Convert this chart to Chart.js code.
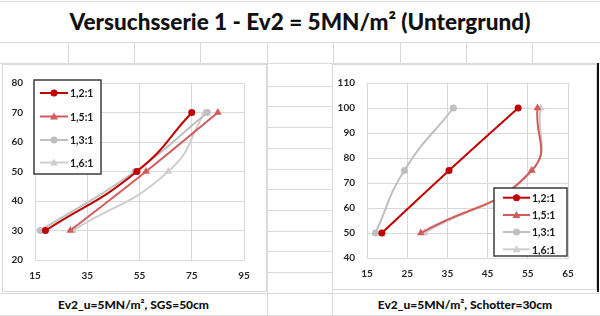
<!DOCTYPE html>
<html>
<head>
<meta charset="utf-8">
<script src="https://cdn.jsdelivr.net/npm/chart.js@4.4.1/dist/chart.umd.min.js"></script>
<style>
  body { margin: 0; width: 600px; height: 316px; position: relative; overflow: hidden; background: #fff; font-family: Lato, "Open Sans", sans-serif; }
  .h, .v { position: absolute; background: #dadada; }
  .h { height: 1px; }
  .v { width: 1px; }
  .title { position: absolute; left: 0; top: 0; width: 600px; height: 42px; line-height: 44px; text-align: center; font-weight: 900; font-size: 22.5px; color: #111; }
  .foot { position: absolute; top: 294px; height: 21px; line-height: 21px; text-align: center; font-weight: 900; font-size: 12px; color: #111; }
  .box { position: absolute; background: #fff; border: 1px solid #d9d9d9; box-sizing: border-box; }
  canvas { position: absolute; left: 0; top: 0; }
</style>
</head>
<body>
<div id="grid"></div>
<div class="title">Versuchsserie 1 - Ev2 = 5MN/m² (Untergrund)</div>
<div class="box" style="left:2px;top:64px;width:265px;height:228px"><canvas id="sgsChart" width="265" height="228"></canvas></div>
<div class="box" style="left:332px;top:64px;width:265px;height:226px"><canvas id="schChart" width="265" height="226"></canvas></div>
<div style="position:absolute;left:597px;top:63px;width:2px;height:229px;background:#111"></div>
<div class="foot" style="left:0;width:267px">Ev2_u=5MN/m², SGS=50cm</div>
<div class="foot" style="left:333px;width:264px">Ev2_u=5MN/m², Schotter=30cm</div>
<script>
// series
const seriesNames = ['1,2:1', '1,5:1', '1,3:1', '1,6:1'];
const seriesColors = ['#c00000', '#d25b5b', '#bfbfbf', '#cecece'];
const seriesMarkers = ['circle', 'triangle', 'circle', 'triangle'];

// left chart: SGS = 50cm
const sgsY = [30, 50, 70];
const sgsX12 = [19, 54, 75];
const sgsX15 = [28.5, 57.5, 85];
const sgsX13 = [17, 53.3, 81];
const sgsX16 = [29.5, 66, 80];
const sgsXTicks = [15, 35, 55, 75, 95];
const sgsYTicks = [20, 30, 40, 50, 60, 70, 80];

// right chart: Schotter = 30cm
const schY = [50, 75, 100];
const schX12 = [18.7, 35.4, 52.6];
const schX15 = [28.4, 56, 57.4];
const schX13 = [17.1, 24.3, 36.5];
const schX16 = [29.3, 55.9, 58.2];
const schXTicks = [15, 25, 35, 45, 55, 65];
const schYTicks = [40, 50, 60, 70, 80, 90, 100, 110];

// spreadsheet cell lines
const grid = document.getElementById('grid');
function line(cls, x, y, len) {
  const d = document.createElement('div');
  d.className = cls;
  d.style.left = x + 'px';
  d.style.top = y + 'px';
  if (cls === 'h') d.style.width = len + 'px'; else d.style.height = len + 'px';
  grid.appendChild(d);
}
line('h', 0, 1, 600);
line('h', 0, 42, 600);
line('h', 0, 63, 600);
[68, 134, 200, 267, 333, 400, 466, 532].forEach(x => line('v', x, 42, 21));
for (let k = 1; k <= 10; k++) line('h', 267, Math.round(65 + 20.7 * k), 66);
line('v', 267, 63, 253);
line('v', 332, 63, 253);
line('h', 0, 293, 600);
line('h', 0, 315, 600);

const tickFont = { family: 'Lato', size: 10, weight: 'bold' };

const boxLegend = {
  id: 'boxLegend',
  afterDraw(chart, args, opts) {
    const ctx = chart.ctx;
    ctx.save();
    ctx.fillStyle = '#fff';
    ctx.fillRect(opts.x, opts.y, opts.w, opts.h);
    ctx.strokeStyle = '#3c3c3c';
    ctx.lineWidth = 1.5;
    ctx.strokeRect(opts.x, opts.y, opts.w, opts.h);
    chart.data.datasets.forEach((ds, i) => {
      const y = opts.y + opts.rows[i];
      ctx.strokeStyle = ds.borderColor;
      ctx.lineWidth = 2;
      ctx.beginPath();
      ctx.moveTo(opts.lx1, y);
      ctx.lineTo(opts.lx2, y);
      ctx.stroke();
      ctx.fillStyle = ds.borderColor;
      const cx = (opts.lx1 + opts.lx2) / 2;
      ctx.beginPath();
      if (ds.pointStyle === 'circle') {
        ctx.arc(cx, y, 3.5, 0, Math.PI * 2);
      } else {
        ctx.moveTo(cx, y - 4);
        ctx.lineTo(cx + 4, y + 3);
        ctx.lineTo(cx - 4, y + 3);
        ctx.closePath();
      }
      ctx.fill();
      ctx.fillStyle = '#1a1a1a';
      ctx.font = 'bold 10.5px Lato';
      ctx.textBaseline = 'middle';
      ctx.fillText(ds.label, opts.tx, y + 1);
    });
    ctx.restore();
  }
};

function makeChart(id, ys, xs, xTicks, yTicks, geo, legend) {
  const datasets = seriesNames.map((name, i) => ({
    label: name,
    data: xs[i].map((x, j) => ({ x: x, y: ys[j] })),
    showLine: true,
    tension: 0.5,
    borderColor: seriesColors[i],
    backgroundColor: seriesColors[i],
    borderWidth: 2,
    pointStyle: seriesMarkers[i],
    pointRadius: seriesMarkers[i] === 'circle' ? 3.5 : 4.5,
    pointBorderWidth: 0
  }));
  return new Chart(document.getElementById(id), {
    type: 'scatter',
    data: { datasets: datasets },
    plugins: [boxLegend],
    options: {
      responsive: false,
      animation: false,
      layout: { padding: { left: 0, top: geo.top, right: geo.right, bottom: 0 } },
      plugins: { legend: { display: false }, tooltip: { enabled: false }, boxLegend: legend },
      scales: {
        x: {
          type: 'linear', min: xTicks[0], max: xTicks[xTicks.length - 1],
          afterBuildTicks: s => { s.ticks = xTicks.map(v => ({ value: v })); },
          afterFit: s => { s.height = geo.xh; },
          grid: { color: '#d9d9d9', drawTicks: false },
          border: { color: '#d9d9d9' },
          ticks: { padding: 10, font: tickFont, color: '#262626' }
        },
        y: {
          type: 'linear', min: yTicks[0], max: yTicks[yTicks.length - 1],
          afterBuildTicks: s => { s.ticks = yTicks.map(v => ({ value: v })); },
          afterFit: s => { s.width = geo.yw; },
          grid: { color: '#d9d9d9', drawTicks: false },
          border: { color: '#d9d9d9' },
          ticks: { padding: 12, font: tickFont, color: '#262626' }
        }
      }
    }
  });
}

makeChart('sgsChart', sgsY, [sgsX12, sgsX15, sgsX13, sgsX16], sgsXTicks, sgsYTicks,
  { top: 15, right: 24, xh: 33, yw: 32 },
  { x: 31, y: 15, w: 67, h: 94, rows: [13, 36.5, 60, 82.5], lx1: 37, lx2: 65, tx: 67 });

makeChart('schChart', schY, [schX12, schX15, schX13, schX16], schXTicks, schYTicks,
  { top: 14, right: 30, xh: 33, yw: 34 },
  { x: 161, y: 123, w: 73, h: 68, rows: [9.7, 27, 44, 61.3], lx1: 170, lx2: 197, tx: 199 });
</script>
</body>
</html>
